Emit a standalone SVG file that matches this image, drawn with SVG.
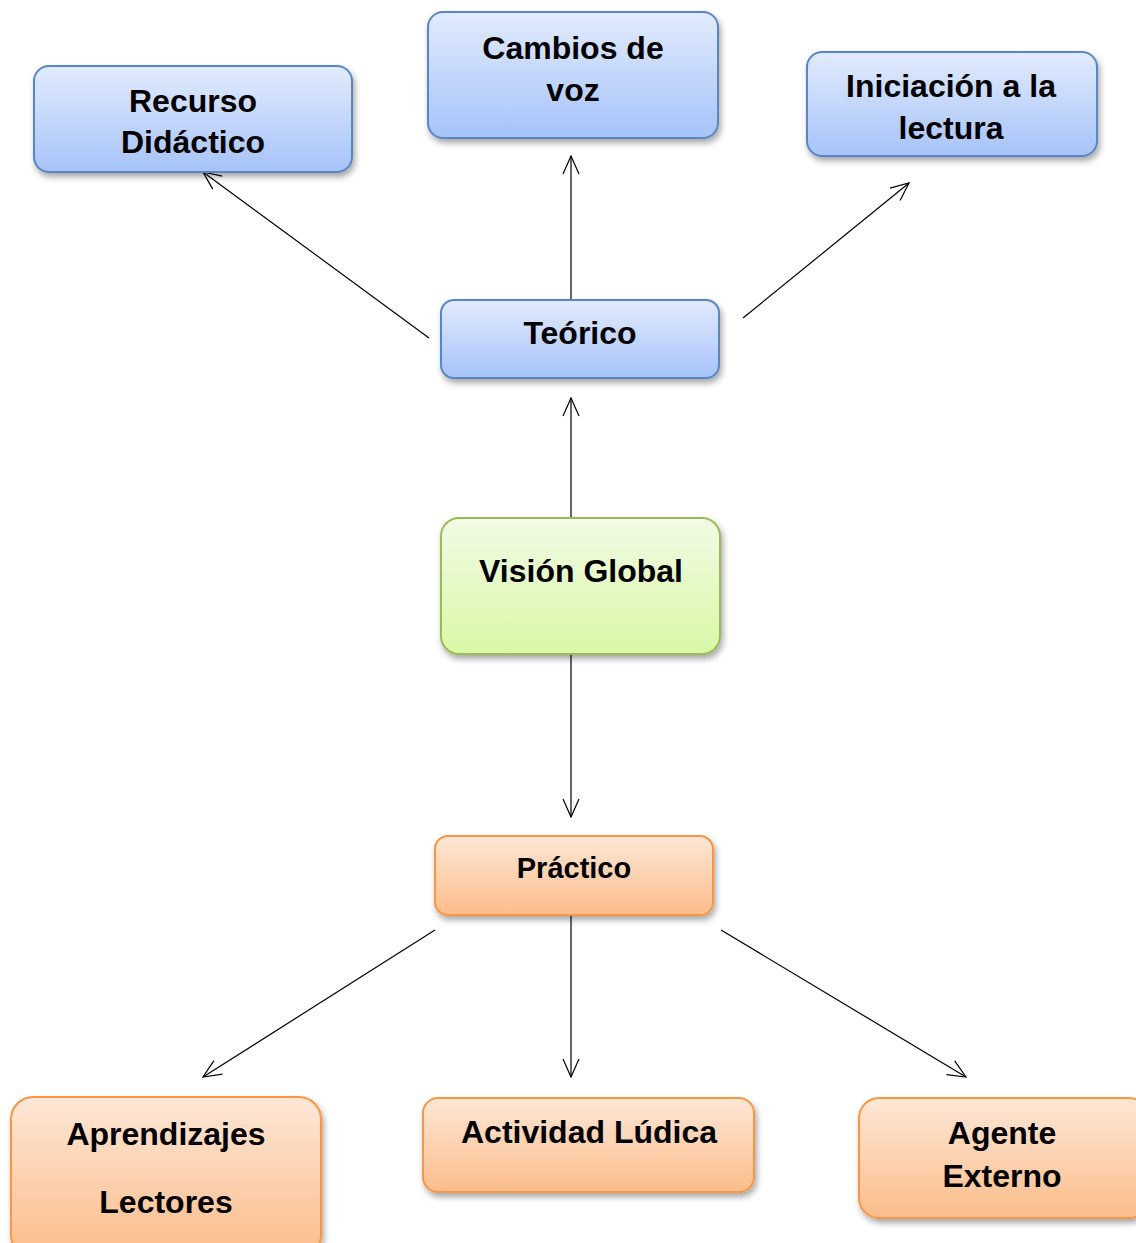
<svg xmlns="http://www.w3.org/2000/svg" width="1136" height="1243" viewBox="0 0 1136 1243">
<defs>
<linearGradient id="gb" x1="0" y1="0" x2="0" y2="1"><stop offset="0" stop-color="#e2ebfd"/><stop offset="1" stop-color="#a6c3f9"/></linearGradient>
<linearGradient id="gg" x1="0" y1="0" x2="0" y2="1"><stop offset="0" stop-color="#f2fbe5"/><stop offset="1" stop-color="#d8f8a6"/></linearGradient>
<linearGradient id="go" x1="0" y1="0" x2="0" y2="1"><stop offset="0" stop-color="#fee7d6"/><stop offset="1" stop-color="#fbbd8b"/></linearGradient>
<filter id="sh" x="-10%" y="-10%" width="130%" height="140%"><feDropShadow dx="2" dy="4" stdDeviation="3" flood-color="#000" flood-opacity="0.35"/></filter>
<marker id="ar" viewBox="0 0 20 20" refX="19" refY="10" markerWidth="20" markerHeight="20" markerUnits="userSpaceOnUse" orient="auto"><path d="M1,2 L19,10 L1,18" fill="none" stroke="#000" stroke-width="1.2"/></marker>
<style>
.b{fill:url(#gb);stroke:#5a86c5;stroke-width:2;filter:url(#sh)}
.g{fill:url(#gg);stroke:#9bbb59;stroke-width:2;filter:url(#sh)}
.o{fill:url(#go);stroke:#f79646;stroke-width:2;filter:url(#sh)}
text{font-family:"Liberation Sans",Arial,sans-serif;font-weight:bold;font-size:32px;fill:#000;text-anchor:middle}
.c line{stroke:#000;stroke-width:1.2;marker-end:url(#ar)}
</style>
</defs>
<rect width="1136" height="1243" fill="#fff"/>
<g class="c" id="connectors">
<line x1="429" y1="338" x2="203" y2="172"/>
<line x1="571" y1="300" x2="571" y2="156"/>
<line x1="743" y1="318" x2="909" y2="183"/>
<line x1="571" y1="518" x2="571" y2="398"/>
<line x1="571" y1="654" x2="571" y2="817"/>
<line x1="435" y1="930" x2="203" y2="1077"/>
<line x1="571" y1="915" x2="571" y2="1077"/>
<line x1="721" y1="930" x2="966" y2="1077"/>
</g>
<g id="recurso"><rect class="b" x="34" y="66" width="318" height="106" rx="15"/><text x="193" y="112">Recurso</text><text x="193" y="153">Didáctico</text></g>
<g id="cambios"><rect class="b" x="428" y="12" width="290" height="126" rx="15"/><text x="573" y="59">Cambios de</text><text x="573" y="101">voz</text></g>
<g id="iniciacion"><rect class="b" x="807" y="52" width="290" height="104" rx="15"/><text x="951" y="97">Iniciación a la</text><text x="951" y="139">lectura</text></g>
<g id="teorico"><rect class="b" x="441" y="300" width="278" height="78" rx="13"/><text x="580" y="344">Teórico</text></g>
<g id="vision"><rect class="g" x="441" y="518" width="279" height="136" rx="18"/><text x="581" y="582">Visión Global</text></g>
<g id="practico"><rect class="o" x="435" y="836" width="278" height="79" rx="13"/><text x="574" y="878" style="font-size:29px">Práctico</text></g>
<g id="aprendizajes"><rect class="o" x="11" y="1097" width="310" height="160" rx="22"/><text x="166" y="1145">Aprendizajes</text><text x="166" y="1213">Lectores</text></g>
<g id="actividad"><rect class="o" x="423" y="1098" width="331" height="94" rx="15"/><text x="589" y="1143">Actividad Lúdica</text></g>
<g id="agente"><rect class="o" x="859" y="1098" width="290" height="120" rx="20"/><text x="1002" y="1144">Agente</text><text x="1002" y="1187">Externo</text></g>
</svg>
